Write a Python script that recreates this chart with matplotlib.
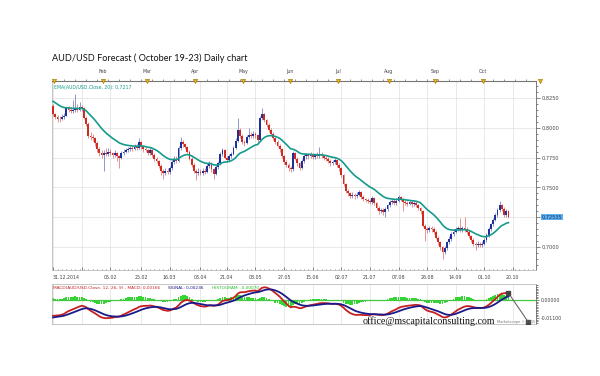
import numpy as np
import pandas as pd
import matplotlib.pyplot as plt
from matplotlib.ticker import MultipleLocator

# AUD/USD daily bars 31.12.2014 - 16.10.2015
first_open = 0.8183
closes = [
    .8110, .8090, .8075, .8070, .8090, .8100, .8160, .8150, .8140, .8145,
    .8165, .8150, .8170, .8160, .8080, .8030, .7930, .7920, .7910, .7870,
    .7820, .7790, .7775, .7790, .7780, .7800, .7785, .7770, .7790, .7760,
    .7750, .7790, .7800, .7810, .7820, .7830, .7825, .7840, .7830, .7880,
    .7840, .7820, .7810, .7790, .7810, .7770, .7740, .7720, .7680, .7640,
    .7620, .7640, .7630, .7660, .7710, .7740, .7720, .7830, .7880, .7860,
    .7840, .7800, .7740, .7690, .7640, .7620, .7630, .7620, .7640, .7630,
    .7680, .7700, .7650, .7615, .7670, .7700, .7780, .7810, .7750, .7730,
    .7760, .7780, .7830, .7890, .7980, .7930, .7880, .7870, .7920, .7940,
    .7930, .7950, .7935, .7900, .8080, .8110, .8060, .8020, .7980, .7950,
    .7910, .7880, .7850, .7820, .7760, .7710, .7690, .7660, .7650, .7790,
    .7740, .7700, .7660, .7720, .7760, .7770, .7760, .7770, .7755, .7770,
    .7760, .7780, .7760, .7745, .7740, .7720, .7700, .7710, .7730, .7690,
    .7660, .7600, .7530, .7470, .7450, .7430, .7440, .7425, .7440, .7460,
    .7420, .7400, .7395, .7390, .7380, .7410, .7370, .7330, .7300, .7310,
    .7290, .7320, .7350, .7380, .7385, .7370, .7390, .7420, .7400, .7380,
    .7370, .7365, .7375, .7360, .7370, .7355, .7330, .7300, .7180, .7150,
    .7140, .7160, .7150, .7130, .7080, .7040, .7000, .6960, .6990, .7040,
    .7070, .7110, .7130, .7150, .7160, .7140, .7160, .7150, .7130, .7090,
    .7060, .7030, .7020, .7030, .7020, .7030, .7060, .7100, .7150, .7190,
    .7230, .7270, .7310, .7350, .7320, .7270, .7300, .72535,
]
highs = [
    .8200, .8125, .8105, .8095, .8110, .8120, .8175, .8185, .8170, .8230,
    .8278, .8200, .8215, .8190, .8170, .8095, .8045, .7960, .7950, .7925,
    .7885, .7835, .7810, .7815, .7830, .7830, .7825, .7800, .7815, .7800,
    .7775, .7805, .7820, .7830, .7840, .7850, .7850, .7865, .7860, .7910,
    .7890, .7855, .7840, .7825, .7835, .7820, .7785, .7755, .7730, .7695,
    .7655, .7665, .7660, .7680, .7730, .7760, .7765, .7850, .7925, .7900,
    .7875, .7850, .7810, .7755, .7700, .7655, .7660, .7650, .7665, .7660,
    .7700, .7720, .7710, .7665, .7685, .7720, .7800, .7830, .7820, .7765,
    .7780, .7800, .7850, .7910, .8078, .7995, .7945, .7900, .7940, .7994,
    .7960, .7975, .7965, .7945, .8100, .8160, .8125, .8075, .8035, .7995,
    .7965, .7925, .7895, .7865, .7830, .7775, .7725, .7705, .7680, .7805,
    .7800, .7755, .7715, .7735, .7780, .7790, .7790, .7795, .7785, .7790,
    .7795, .7840, .7800, .7775, .7765, .7755, .7735, .7730, .7750, .7740,
    .7705, .7670, .7610, .7540, .7485, .7465, .7460, .7455, .7460, .7480,
    .7470, .7435, .7415, .7410, .7405, .7430, .7420, .7380, .7345, .7330,
    .7325, .7335, .7365, .7395, .7405, .7400, .7410, .7440, .7430, .7415,
    .7395, .7385, .7395, .7390, .7390, .7385, .7365, .7340, .7310, .7195,
    .7170, .7180, .7175, .7165, .7140, .7090, .7055, .7010, .7010, .7055,
    .7090, .7125, .7150, .7170, .7180, .7240, .7180, .7250, .7165, .7140,
    .7100, .7075, .7045, .7050, .7045, .7050, .7075, .7115, .7165, .7205,
    .7245, .7285, .7330, .7383, .7365, .7335, .7320, .7315,
]
lows = [
    .8095, .8070, .8045, .8050, .8060, .8075, .8095, .8130, .8120, .8125,
    .8130, .8130, .8140, .8140, .8070, .8010, .7915, .7895, .7890, .7850,
    .7800, .7760, .7750, .7633, .7760, .7765, .7770, .7745, .7755, .7720,
    .7661, .7735, .7775, .7785, .7795, .7805, .7805, .7810, .7815, .7820,
    .7825, .7800, .7795, .7770, .7775, .7755, .7720, .7700, .7660, .7600,
    .7570, .7600, .7610, .7615, .7645, .7695, .7700, .7710, .7815, .7840,
    .7820, .7785, .7725, .7670, .7620, .7560, .7600, .7600, .7605, .7610,
    .7620, .7665, .7630, .7570, .7600, .7655, .7690, .7765, .7735, .7710,
    .7715, .7745, .7770, .7820, .7880, .7915, .7865, .7850, .7860, .7905,
    .7910, .7915, .7915, .7880, .7890, .8065, .8045, .8005, .7965, .7930,
    .7895, .7860, .7835, .7800, .7745, .7695, .7670, .7640, .7630, .7640,
    .7725, .7680, .7645, .7650, .7705, .7740, .7740, .7745, .7735, .7740,
    .7745, .7750, .7745, .7725, .7720, .7700, .7680, .7685, .7695, .7670,
    .7640, .7585, .7515, .7455, .7430, .7410, .7415, .7405, .7410, .7425,
    .7405, .7385, .7375, .7370, .7360, .7365, .7355, .7315, .7280, .7285,
    .7270, .7250, .7305, .7335, .7365, .7350, .7355, .7375, .7385, .7300,
    .7350, .7345, .7350, .7340, .7345, .7335, .7310, .7280, .7165, .7050,
    .7120, .7125, .7130, .7110, .7065, .7020, .6980, .6905, .6940, .6975,
    .7025, .7055, .7095, .7115, .7135, .7125, .7125, .7130, .7110, .7075,
    .7040, .7010, .6980, .7000, .7000, .7005, .7015, .7045, .7085, .7135,
    .7175, .7215, .7255, .7295, .7300, .7255, .7255, .7240,
]
# late 2014 closes, only used to warm up the EMA and MACD
warmup_closes = [
    .8700, .8610, .8560, .8530, .8620, .8600, .8710, .8650, .8740, .8740,
    .8690, .8630, .8630, .8620, .8630, .8610, .8610, .8590, .8510, .8500,
    .8510, .8430, .8380, .8330, .8300, .8300, .8280, .8290, .8300, .8250,
    .8260, .8190, .8130, .8150, .8130, .8150, .8100, .8120, .8120, .8150,
    .8130, .8183,
]

label_dates = ['2014-12-31', '2015-01-19', '2015-02-05', '2015-02-25', '2015-03-16',
               '2015-04-03', '2015-04-21', '2015-05-08', '2015-05-27', '2015-06-15',
               '2015-07-02', '2015-07-21', '2015-08-07', '2015-08-26', '2015-09-14',
               '2015-10-01', '2015-10-20']
label_text = ['31.12.2014', '', '05.02', '25.02', '16.03', '03.04', '21.04', '08.05',
              '27.05', '15.06', '02.07', '21.07', '07.08', '26.08', '14.09', '01.10', '20.10']
month_names = ['Feb', 'Mar', 'Apr', 'May', 'Jun', 'Jul', 'Aug', 'Sep', 'Oct']
price_ticks = [0.700, 0.725, 0.750, 0.775, 0.800, 0.825]
price_labels = ['0,7000', '', '0,7500', '0,7750', '0,8000', '0,8250']

# trading-day axis
all_days = pd.bdate_range('2014-12-31', '2015-11-03')
x = np.arange(len(closes))
grid_pos = all_days.get_indexer(pd.to_datetime(label_dates))
month_first = pd.Series(np.arange(len(all_days)), index=all_days).groupby(
    all_days.to_period('M')).first()
# groups: Dec 2014, Jan, Feb, ... Nov
jan_pos = month_first.values[1] - 0.5
month_pos = month_first.values[2:11] - 0.5

# indicators
full = pd.Series(warmup_closes + closes)
ema20 = full.ewm(span=20, adjust=False).mean().values[len(warmup_closes):]
macd_full = full.ewm(span=12, adjust=False).mean() - full.ewm(span=26, adjust=False).mean()
signal_full = macd_full.ewm(span=9, adjust=False).mean()
macd = macd_full.values[len(warmup_closes):]
signal = signal_full.values[len(warmup_closes):]
hist = macd - signal

W, H = 600, 376
fig = plt.figure(figsize=(6, 3.76), dpi=100)
fig.patch.set_facecolor('white')

fig.text(52 / W, 1 - 58 / H, 'AUD/USD Forecast ( October 19-23) Daily chart',
         fontsize=6.6, family='Lato', va='center', ha='left', color='#111111')

ax = fig.add_axes([52 / W, 1 - 270 / H, 484 / W, 189 / H])
am = fig.add_axes([52 / W, 1 - 324 / H, 484 / W, 40 / H], sharex=ax)

xl = (-0.5, 219.5)
ax.set_xlim(*xl)
ax.set_ylim(0.6809, 0.8390)

# candles
opens = np.array([first_open] + closes[:-1])
c = np.array(closes)
cols = np.where(c >= opens, '#1f2f9e', '#d02a22')
ax.vlines(x, lows, highs, colors=cols, lw=0.5, alpha=0.7, zorder=3)
body_lo = np.minimum(opens, c)
body_h = np.maximum(np.abs(c - opens), 0.0004)
ax.bar(x, body_h, bottom=body_lo, width=0.8, color=cols, lw=0, zorder=4)
ax.plot(x, ema20, color='#169a8c', lw=1.2, zorder=5)

ax.set_xticks(grid_pos)
ax.set_yticks(price_ticks)
ax.grid(True, color='#e0e0e0', lw=0.5)
ax.set_axisbelow(True)
ax.tick_params(axis='x', which='both', direction='in', length=2, labelbottom=False,
               color='#555555', width=0.5)
ax.xaxis.set_minor_locator(MultipleLocator(2))
ax.tick_params(axis='x', which='minor', length=1)
ax.yaxis.tick_right()
ax.set_yticklabels(price_labels)
ax.yaxis.set_minor_locator(MultipleLocator(0.005))
ax.tick_params(axis='y', which='both', direction='out', length=3, width=0.5,
               labelsize=3.6, pad=1, color='#555555', labelcolor='#444444')
ax.tick_params(axis='y', which='minor', length=1.5)
for s in ax.spines.values():
    s.set_color('#bbbbbb')
    s.set_linewidth(0.6)
ax.spines['right'].set_color('#666666')

# date labels under the price panel
xt = ax.get_xaxis_transform()
for p, t in zip(grid_pos, label_text):
    if t:
        ha = 'left' if p == 0 else 'center'
        ax.text(p - 0.3 if p == 0 else p, -0.04, t, transform=xt, fontsize=3.4,
                ha=ha, va='center', color='#444444', clip_on=False)

# month row above the price panel
top = ax.twiny()
top.set_xlim(*xl)
top.set_xticks(month_pos)
top.set_xticklabels(month_names)
top.xaxis.set_minor_locator(MultipleLocator(5))
top.tick_params(axis='x', which='both', direction='out', length=1.8, width=0.5,
                labelsize=3.4, pad=3.5, color='#666666', labelcolor='#444444')
top.tick_params(axis='x', which='minor', length=1.2)
top.spines['top'].set_color('#777777')
for s in ['left', 'right', 'bottom']:
    top.spines[s].set_visible(False)
tri_x = list(month_pos) + [jan_pos]
top.scatter(tri_x, [1.0] * len(tri_x), transform=top.get_xaxis_transform(), marker='v',
            s=9, facecolor='#f2b705', edgecolor='#9a6a00', lw=0.4, clip_on=False, zorder=6)
top.scatter([1.008], [1.0], transform=top.transAxes, marker='v', s=9,
            facecolor='#f2b705', edgecolor='#9a6a00', lw=0.4, clip_on=False, zorder=6)

ax.text(0.004, 0.968, 'EMA(AUD/USD.Close, 20): 0,7217', transform=ax.transAxes,
        fontsize=3.3, color='#169a8c', va='center')
ax.text(1.012, closes[-1], '0,72535', transform=ax.get_yaxis_transform(), fontsize=3.6,
        va='center', ha='left', color='#0c2f7a', clip_on=False,
        bbox=dict(boxstyle='square,pad=0.15', fc='#5fb0e8', ec='none'))

# MACD panel
am.set_ylim(-0.01467, 0.00978)
am.bar(x, hist, width=0.9, color='#33d633', lw=0, zorder=2)
am.axhline(0, color='#44c844', lw=0.9, zorder=2)
am.plot(x, macd, color='#c62020', lw=1.3, zorder=4)
am.plot(x, signal, color='#1a1a8a', lw=1.3, zorder=4)
fc_x = [x[-1], 216]
fc_y = [max(macd[-1], signal[-1]), -0.0135]
am.plot(fc_x, fc_y, color='#6a6a6a', lw=0.8, zorder=5)
am.plot(fc_x, fc_y, ls='none', marker='s', ms=2.2, color='#444444', zorder=6)

am.set_xticks(grid_pos)
am.grid(True, axis='x', color='#e0e0e0', lw=0.5)
am.tick_params(axis='x', which='both', length=0, labelbottom=False)
am.yaxis.tick_right()
am.set_yticks([0.0, -0.011])
am.set_yticklabels(['0,00000', '-0,01100'])
am.yaxis.set_minor_locator(MultipleLocator(0.001))
am.tick_params(axis='y', which='both', direction='out', length=2.5, width=0.5,
               labelsize=3.4, pad=1, color='#555555', labelcolor='#444444')
am.tick_params(axis='y', which='minor', length=1.2)
for s in am.spines.values():
    s.set_color('#bbbbbb')
    s.set_linewidth(0.6)
am.spines['right'].set_color('#666666')

am.text(0.003, 0.9, 'MACD(AUD/USD.Close, 12, 26, 9) - MACD: 0,00166', transform=am.transAxes,
        fontsize=3.1, color='#c62020', va='center')
am.text(0.24, 0.9, 'SIGNAL: 0,00236', transform=am.transAxes,
        fontsize=3.1, color='#1a1a8a', va='center')
am.text(0.33, 0.9, 'HISTOGRAM: -0,00070', transform=am.transAxes,
        fontsize=3.1, color='#22bb22', va='center')

fig.text(363 / W, 1 - 321 / H, 'office@mscapitalconsulting.com', family='Liberation Serif',
         fontsize=7.2, color='#111111', va='center', ha='left')
fig.text(497 / W, 1 - 322 / H, 'Marketscope \u00a9 2015', fontsize=2.6, color='#777777',
         ha='left', va='center')

fig.savefig('out.png', dpi=100)
